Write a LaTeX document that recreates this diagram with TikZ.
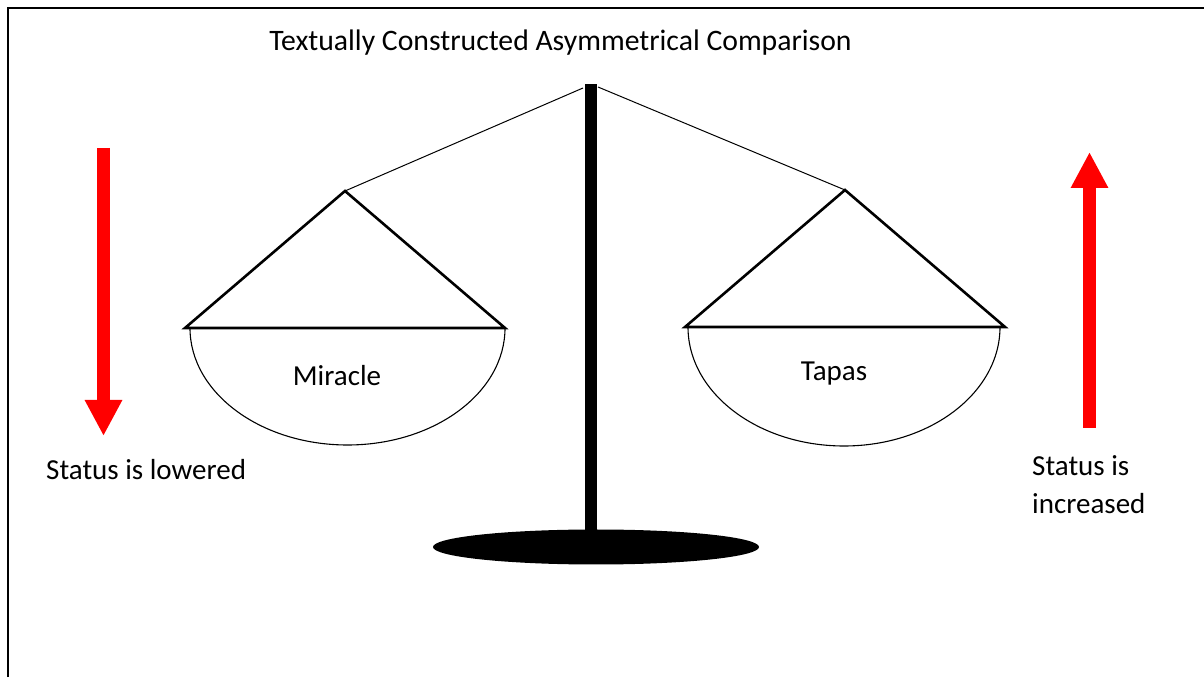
\documentclass[tikz,border=0pt]{standalone}
\usepackage{fontspec}
\setmainfont{Carlito}
\usetikzlibrary{arrows.meta,positioning}
\definecolor{signal}{HTML}{FF0000}
\tikzset{
  lbl/.style   ={font=\fontsize{29}{38}\selectfont, inner sep=0pt,
                 align=left, text=black},
  frame/.style ={draw=black, line width=2pt},
  pan/.style   ={draw=black, line width=2.6pt, line join=miter},
  bowl/.style  ={draw=black, line width=1.1pt},
  cord/.style  ={draw=black, line width=1pt},
  pole/.style  ={draw=black, line width=12pt},
  status/.style={draw=signal, line width=13pt,
                 -{Triangle[length=36pt,width=35pt]}}
}

\begin{document}
\begin{tikzpicture}[x=1pt,y=1pt]
\useasboundingbox (0,0) rectangle (1204,677);
\fill[white] (0,0) rectangle (1204,677);
\draw[frame] (8,0) -- (8,669) -- (1204,669);

\node[lbl, font=\fontsize{29.7}{38}\selectfont] (title) at (560.5,634)
  {Textually Constructed Asymmetrical Comparison};

\coordinate (topl) at (583,589);
\coordinate (topr) at (598,590);
\coordinate (apexl) at (345,486);
\coordinate (apexr) at (845,487);

\draw[pole] (591,147) -- (591,593);
\fill[black] (596,130) ellipse[x radius=163, y radius=17.5];

\draw[cord] (topl) -- (apexl);
\draw[cord] (topr) -- (apexr);

\draw[pan] (185,349) -- (apexl) -- (505,349) -- cycle;
\draw[bowl] (190,349) arc[start angle=180, end angle=360,
  x radius=157.5, y radius=117];
\draw[pan] (685,350) -- (apexr) -- (1005,350) -- cycle;
\draw[bowl] (688,350) arc[start angle=180, end angle=360,
  x radius=156, y radius=119];

\node[lbl] (miracle) at (337,301) {Miracle};
\node[lbl] (tapas) at (834,303) {Tapas};

\coordinate (downtop) at (103.5,529);
\coordinate (downtip) at (103.5,241);
\coordinate (upfoot) at (1089.5,249);
\coordinate (uptip) at (1089.5,525);
\draw[status] (downtop) -- (downtip);
\draw[status] (upfoot) -- (uptip);

\node[lbl, anchor=west] (lowered) at (46,207) {Status is lowered};
\node[lbl, anchor=west] (increased) at (1032,192) {Status is\\increased};
\end{tikzpicture}
\end{document}
